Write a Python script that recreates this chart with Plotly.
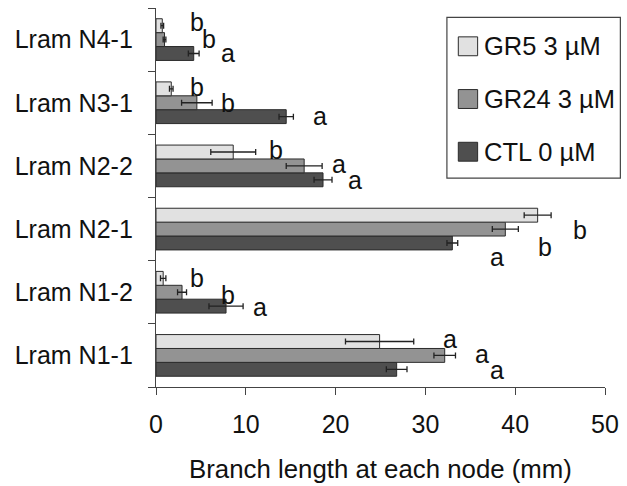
import plotly.graph_objects as go

# ---------------- data ----------------
categories = ["Lram N1-1", "Lram N1-2", "Lram N2-1", "Lram N2-2", "Lram N3-1", "Lram N4-1"]

series_names = ["CTL 0 µM", "GR24 3 µM", "GR5 3 µM"]

ctl_values = [26.8, 7.8, 33.0, 18.6, 14.5, 4.2]
ctl_errors = [1.15, 1.9, 0.6, 1.0, 0.8, 0.6]

gr24_values = [32.15, 2.9, 38.9, 16.5, 4.55, 0.95]
gr24_errors = [1.2, 0.5, 1.45, 2.0, 1.7, 0.15]

gr5_values = [24.9, 0.8, 42.5, 8.6, 1.7, 0.7]
gr5_errors = [3.8, 0.3, 1.5, 2.5, 0.2, 0.15]

# significance letters per category: (CTL, GR24, GR5)
ctl_letters = ["a", "a", "a", "a", "a", "a"]
gr24_letters = ["a", "b", "b", "a", "b", "b"]
gr5_letters = ["a", "b", "b", "b", "b", "b"]

x_ticks = [0, 10, 20, 30, 40, 50]
x_title = "Branch length at each node (mm)"

# letter placement (x in data units, dy in category units)
ctl_letter_x = [38.0, 11.57, 37.98, 22.16, 18.3, 8.04]
gr24_letter_x = [36.26, 8.04, 43.36, 20.34, 8.04, 5.88]
gr5_letter_x = [32.73, 4.53, 47.2, 13.33, 4.53, 4.53]
ctl_letter_dy = [-0.235, -0.24, -0.44, -0.216, -0.21, -0.21]
gr24_letter_dy = [0.016, -0.05, -0.28, 0.025, -0.011, 0.011]
gr5_letter_dy = [0.257, 0.218, -0.01, 0.253, 0.257, 0.284]

# ---------------- styles ----------------
FONT = "Liberation Sans, Arial, sans-serif"
colors = {"CTL 0 µM": "#4f4f4f", "GR24 3 µM": "#939393", "GR5 3 µM": "#e1e1e1"}
EDGE = "#2b2b2b"

W, H = 627, 486
ML, MR, MT, MB = 156, 18, 8, 97

fig = go.Figure()
for name, vals, errs in [
    (series_names[0], ctl_values, ctl_errors),
    (series_names[1], gr24_values, gr24_errors),
    (series_names[2], gr5_values, gr5_errors),
]:
    fig.add_trace(go.Bar(
        y=categories, x=vals, orientation="h", name=name,
        marker=dict(color=colors[name], line=dict(color=EDGE, width=1)),
        error_x=dict(type="data", array=errs, visible=True,
                     color="#222222", thickness=1.3, width=3),
        showlegend=False, hoverinfo="skip",
    ))

# significance letters
for letters, lx, ldy in [
    (ctl_letters, ctl_letter_x, ctl_letter_dy),
    (gr24_letters, gr24_letter_x, gr24_letter_dy),
    (gr5_letters, gr5_letter_x, gr5_letter_dy),
]:
    for i, (t, x, dy) in enumerate(zip(letters, lx, ldy)):
        fig.add_annotation(x=x, y=i + dy, xref="x", yref="y", text=t,
                           showarrow=False, font=dict(family=FONT, size=25, color="#111"),
                           xanchor="center", yanchor="middle")

# manual legend (pixel -> paper coords)
pw = W - ML - MR
ph = H - MT - MB
def px_x(p):
    return (p - ML) / pw
def px_y(p):
    return 1 - (p - MT) / ph

fig.add_shape(type="rect", xref="paper", yref="paper",
              x0=px_x(449.5), x1=px_x(624.5), y0=px_y(179), y1=px_y(17.5),
              line=dict(color="#444444", width=1.2), fillcolor="white")
legend_order = [series_names[2], series_names[1], series_names[0]]
for k, name in enumerate(legend_order):
    cy = 46.5 + 53 * k
    fig.add_shape(type="rect", xref="paper", yref="paper",
                  x0=px_x(461), x1=px_x(480.5), y0=px_y(cy + 9.5), y1=px_y(cy - 9.5),
                  line=dict(color=EDGE, width=1), fillcolor=colors[name])
    fig.add_annotation(x=px_x(485), y=px_y(cy), xref="paper", yref="paper",
                       text=name, showarrow=False, xanchor="left", yanchor="middle",
                       font=dict(family=FONT, size=25.5, color="#111"))

fig.update_layout(
    width=W, height=H,
    margin=dict(l=ML, r=MR, t=MT, b=MB),
    paper_bgcolor="white", plot_bgcolor="white",
    barmode="group", bargap=0.34, bargroupgap=0,
    font=dict(family=FONT, size=25, color="#111"),
    showlegend=False,
    xaxis=dict(range=[0, 50], tickvals=x_ticks, ticktext=[str(v) for v in x_ticks],
               ticks="outside", ticklen=7, tickwidth=1, tickcolor="#444",
               showline=True, linecolor="#444", linewidth=1.2,
               showgrid=False, zeroline=False, ticklabelstandoff=8,
               tickfont=dict(family=FONT, size=25, color="#111"),
               title=dict(text=x_title, font=dict(family=FONT, size=25.8, color="#111"), standoff=22)),
    yaxis=dict(type="category", categoryorder="array", categoryarray=categories,
               range=[-0.5, 5.5], tickson="boundaries",
               ticks="outside", ticklen=7, tickwidth=1, tickcolor="#444",
               showline=True, linecolor="#444", linewidth=1.2,
               showgrid=False, zeroline=False, ticklabelstandoff=17,
               tickfont=dict(family=FONT, size=25, color="#111")),
)

fig.write_html("out.html", config={"displayModeBar": False, "staticPlot": True},
               post_script="document.body.style.margin='0';document.body.style.overflow='hidden';")
